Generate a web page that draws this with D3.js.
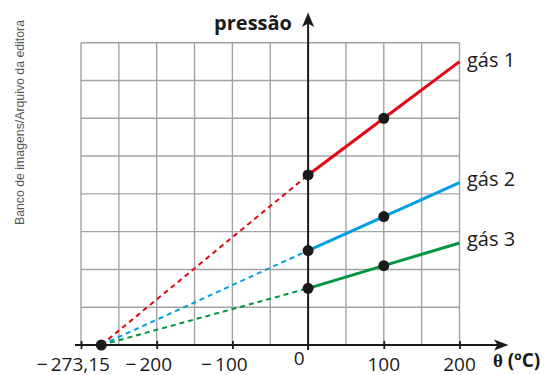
<!DOCTYPE html>
<html><head><meta charset="utf-8">
<script src="https://cdn.jsdelivr.net/npm/d3@7"></script>
<style>body{margin:0;background:#fff}svg{display:block}</style>
</head><body><svg id="c" width="546" height="375"></svg>
<script>
const temps = [0, 100, 200];
const series = ["gás 1", "gás 2", "gás 3"];
const gas1 = [4.5, 6.0, 7.5];
const gas2 = [2.5, 3.4, 4.3];
const gas3 = [1.5, 2.1, 2.7];
const absZero = -273.15;
const absZeroLabel = "−\u2009273,15";
const xTickValues = [-300, -200, -100, 100, 200];
const xLabelValues = [-200, -100, 0, 100, 200];
const xLabels = ["−\u2009200", "−\u2009100", "0", "100", "200"];
const colors = ["#e30613", "#009fe3", "#009640"];
const values = [gas1, gas2, gas3];

const svg = d3.select("#c");
const x = d3.scaleLinear().domain([-300, 200]).range([81, 459.5]);
const y = d3.scaleLinear().domain([0, 8]).range([345, 42.7]);
const ink = "#1a1a1a";
const font = "'Open Sans', 'Noto Sans', sans-serif";

// watermark
svg.append("text")
  .attr("transform", "translate(24,122.5) rotate(-90)")
  .attr("text-anchor", "middle")
  .attr("font-family", "'Liberation Sans', Arial, sans-serif")
  .attr("font-size", 12.3).attr("fill", "#555")
  .text("Banco de imagens/Arquivo da editora");

// grid
const g = svg.append("g").attr("stroke", "#a3a3a3").attr("stroke-width", 1.4);
g.selectAll("line.v").data(d3.range(-300, 201, 50)).join("line")
  .attr("x1", d => x(d)).attr("x2", d => x(d))
  .attr("y1", y(0)).attr("y2", y(8));
g.selectAll("line.h").data(d3.range(1, 9)).join("line")
  .attr("x1", x(-300)).attr("x2", x(200))
  .attr("y1", d => y(d)).attr("y2", d => y(d));

// x axis line + arrow
svg.append("line").attr("x1", 75).attr("x2", 500).attr("y1", y(0)).attr("y2", y(0))
  .attr("stroke", ink).attr("stroke-width", 2);
svg.append("path")
  .attr("d", `M508.5,${y(0)} L494,${y(0)-5.5} L497.5,${y(0)} L494,${y(0)+5.5} Z`)
  .attr("fill", ink);
// ticks
const ax = d3.axisBottom(x).tickValues(xTickValues).tickSize(8).tickFormat("");
const axg = svg.append("g").attr("transform", `translate(0,${y(0) - 4})`).call(ax);
axg.select(".domain").remove();
axg.selectAll(".tick line").attr("stroke", ink).attr("stroke-width", 1.8);

// y axis line + arrow
svg.append("line").attr("x1", x(0)).attr("x2", x(0)).attr("y1", 350).attr("y2", 20)
  .attr("stroke", ink).attr("stroke-width", 2);
svg.append("path")
  .attr("d", `M${x(0)},12.5 L${x(0)-6},27 L${x(0)},23.5 L${x(0)+6},27 Z`)
  .attr("fill", ink);

// tick labels
svg.selectAll("text.xl").data(xLabelValues).join("text")
  .attr("x", d => d < 0 ? x(d) - 8 : (d === 0 ? x(d) - 9 : x(d)))
  .attr("y", d => d === 0 ? 364.5 : 370.5)
  .attr("text-anchor", "middle")
  .attr("font-family", font).attr("font-size", 19).attr("fill", ink)
  .text((d, i) => xLabels[i]);
svg.append("text").attr("x", 110).attr("y", 370.5).attr("text-anchor", "end")
  .attr("font-family", font).attr("font-size", 19).attr("fill", ink)
  .text(absZeroLabel);

// axis titles
svg.append("text").attr("x", 292).attr("y", 29.5).attr("text-anchor", "end")
  .attr("font-family", font).attr("font-weight", "bold").attr("font-size", 20).attr("fill", ink)
  .text("pressão");
const t = svg.append("text").attr("x", 493).attr("y", 367)
  .attr("font-weight", "bold").attr("font-size", 19).attr("fill", ink);
t.append("tspan").attr("font-family", "'Liberation Serif', serif").text("θ");
t.append("tspan").attr("font-family", font).text(" (ºC)");

// series
values.forEach((vals, i) => {
  svg.append("line")
    .attr("x1", x(absZero)).attr("y1", y(0))
    .attr("x2", x(temps[0])).attr("y2", y(vals[0]))
    .attr("stroke", colors[i]).attr("stroke-width", 2).attr("stroke-dasharray", "5,4");
  svg.append("path").datum(temps.map((tt, k) => [tt, vals[k]]))
    .attr("d", d3.line().x(d => x(d[0])).y(d => y(d[1])))
    .attr("fill", "none").attr("stroke", colors[i]).attr("stroke-width", 3);
});
values.forEach((vals, i) => {
  svg.selectAll(null).data(temps.slice(0, 2)).join("circle")
    .attr("cx", d => x(d)).attr("cy", (d, k) => y(vals[k])).attr("r", 5.5).attr("fill", ink);
  svg.append("text").attr("x", 467).attr("y", y(vals[2]) + (i === 0 ? 5.5 : 3))
    .attr("font-family", font).attr("font-size", 20).attr("fill", ink)
    .text(series[i]);
});
svg.append("circle").attr("cx", x(absZero)).attr("cy", y(0)).attr("r", 5.5).attr("fill", ink);
</script></body></html>
